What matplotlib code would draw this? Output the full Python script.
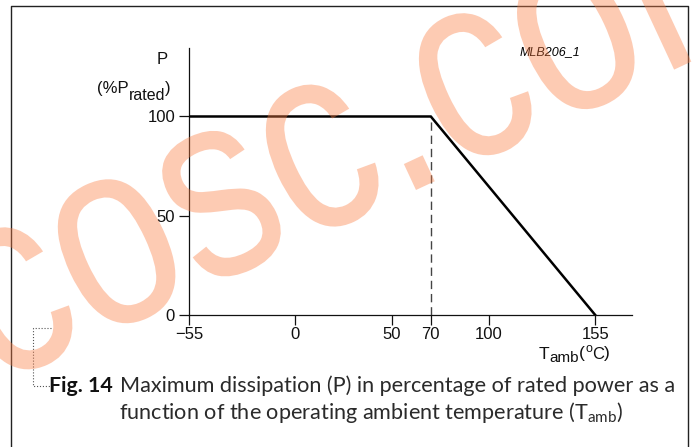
import matplotlib
matplotlib.use("Agg")
import matplotlib.pyplot as plt
from matplotlib.lines import Line2D
from matplotlib.patches import PathPatch
from matplotlib.textpath import TextPath
from matplotlib.font_manager import FontProperties
from matplotlib.transforms import Affine2D

# derating curve
temp = [-55, 70, 155]
power = [100, 100, 0]
knee_temp = 70
knee_power = 100

xticks = [-55, 0, 50, 70, 100, 155]
yticks = [0, 50, 100]

W, H = 692, 447

plt.rcParams['font.family'] = ['Liberation Sans', 'DejaVu Sans']
plt.rcParams['mathtext.fontset'] = 'custom'
plt.rcParams['mathtext.rm'] = 'Liberation Sans'
plt.rcParams['mathtext.sf'] = 'Lato'


def fx(px):
    return px / W


def fy(py):
    return 1 - py / H


fig = plt.figure(figsize=(W / 100, H / 100), dpi=100)
ax = fig.add_axes([fx(189), fy(315), fx(632 - 189), (315 - 48) / H])

ax.plot(temp, power, color='black', lw=1.8, solid_joinstyle='miter', zorder=3)
ax.plot([knee_temp, knee_temp], [0, knee_power], color='#444444', lw=1.0,
        dashes=(6, 3.5), zorder=2)

ax.set_xlim(-55, 174)
ax.set_ylim(0, 134.5)
ax.set_xticks(xticks)
ax.set_yticks(yticks)
ax.set_xticklabels([str(t).replace('-', '\u2212') for t in xticks])
ax.tick_params(direction='out', length=7, width=0.9, labelsize=12, colors='#111111')
ax.tick_params(axis='x', pad=1.5)
ax.tick_params(axis='y', pad=3)
for s in ['top', 'right']:
    ax.spines[s].set_visible(False)
for s in ['left', 'bottom']:
    ax.spines[s].set_linewidth(0.9)
    ax.spines[s].set_color('#111111')


def piece(prev, base, s, size, up_px):
    # next piece of a label, right after prev, baseline shifted from base's bbox bottom
    return ax.annotate(s, xy=(1, 0), xycoords=(prev, base), xytext=(0, up_px * 0.72),
                       textcoords='offset points', fontsize=size, ha='left',
                       va='baseline', annotation_clip=False, color='#111111')


# y label
fig.text(fx(162), fy(59), 'P', ha='center', va='center', fontsize=12, color='#111111')
yl = fig.text(fx(97), fy(93), '(%P', ha='left', va='baseline', fontsize=12, color='#111111')
t = piece(yl, yl, 'rated', 11.5, -4.5)
piece(t, yl, ')', 12, 3.5)

# x label
xl = fig.text(fx(539), fy(359), 'T', ha='left', va='baseline', fontsize=12.5, color='#111111')
t = piece(xl, xl, 'amb', 11, 0.5)
t = piece(t, xl, '(', 12.5, 3.6)
t = piece(t, xl, 'o', 9, 10)
t = piece(t, xl, 'C', 12, 2.8)
piece(t, xl, ')', 12.5, 3.6)

fig.text(fx(520), fy(52), 'MLB206_1', ha='left', va='center', fontsize=9, style='italic')

# caption
fig.text(fx(49), fy(392), 'Fig. 14', ha='left', va='baseline', fontsize=15.4,
         family='Lato', weight='bold', color='#111111')
fig.text(fx(120), fy(392), 'Maximum dissipation (P) in percentage of rated power as a',
         ha='left', va='baseline', fontsize=15.6, family='Lato', color='#2a2a2a')
fig.text(fx(119), fy(419), r'function of the operating ambient temperature (T$_{\mathsf{amb}}$)',
         ha='left', va='baseline', fontsize=15.6, family='Lato', color='#2a2a2a')

# bracket and frame
fig.add_artist(Line2D([fx(51), fx(33), fx(33), fx(52)],
                      [fy(328), fy(328), fy(386), fy(386)],
                      ls=':', lw=0.8, color='#555555'))
fig.add_artist(Line2D([fx(10.5), fx(10.5), fx(687.5), fx(687.5)],
                      [fy(447), fy(6), fy(6), fy(447)],
                      lw=1.0, color='#222222'))

# watermark, narrowed text path
wm = TextPath((0, 0), 'cosc.com', size=268, prop=FontProperties(family='Liberation Sans'))
wm_tr = (Affine2D().scale(0.81, 1).rotate_deg(25).translate(-6.5, H - 387)
         .scale(1 / W, 1 / H) + fig.transFigure)
fig.add_artist(PathPatch(wm, transform=wm_tr, facecolor=(250 / 255, 125 / 255, 67 / 255),
                         edgecolor='none', alpha=0.4, zorder=10))

fig.savefig('out.png', dpi=100)
